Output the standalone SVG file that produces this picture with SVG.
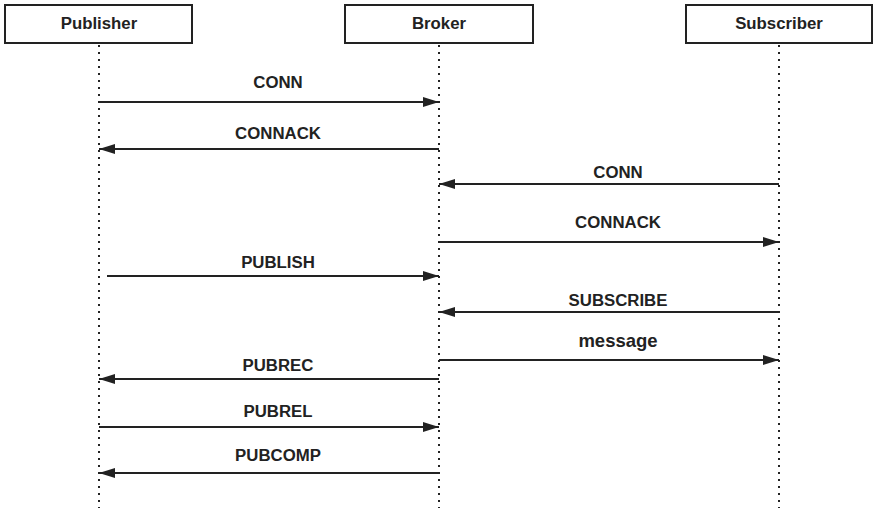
<svg xmlns="http://www.w3.org/2000/svg" width="874" height="508" viewBox="0 0 874 508">
  <style>
    .box { fill: #ffffff; stroke: #222222; stroke-width: 2; }
    .life { stroke: #222222; stroke-width: 2; stroke-dasharray: 2 5; fill: none; }
    .msg { stroke: #222222; stroke-width: 2; fill: none; }
    .lbl { font-family: "Liberation Sans", Arial, sans-serif; font-weight: bold; font-size: 16.8px; fill: #222222; text-anchor: middle; }
    .big { font-size: 18.5px; }
  </style>
  <defs>
    <marker id="head" markerWidth="16" markerHeight="11" refX="16" refY="5.5" orient="auto" markerUnits="userSpaceOnUse">
      <polygon points="0,0.5 16,5.5 0,10.5" fill="#222222"/>
    </marker>
  </defs>
  <rect width="874" height="508" fill="#ffffff"/>

  <!-- participants with lifelines -->
  <g id="publisher">
    <line class="life" x1="99" y1="45" x2="99" y2="508"/>
    <rect class="box" x="5" y="5" width="187" height="38"/>
    <text class="lbl" x="99" y="29">Publisher</text>
  </g>
  <g id="broker">
    <line class="life" x1="439" y1="45" x2="439" y2="508"/>
    <rect class="box" x="345" y="5" width="188" height="38"/>
    <text class="lbl" x="439" y="29">Broker</text>
  </g>
  <g id="subscriber">
    <line class="life" x1="779" y1="45" x2="779" y2="508"/>
    <rect class="box" x="686" y="5" width="186" height="38"/>
    <text class="lbl" x="779" y="29">Subscriber</text>
  </g>

  <!-- messages -->
  <g id="connectors">
    <line class="msg" x1="99" y1="102" x2="439" y2="102" marker-end="url(#head)"/>
    <text class="lbl" x="278" y="88">CONN</text>

    <line class="msg" x1="439" y1="149" x2="99" y2="149" marker-end="url(#head)"/>
    <text class="lbl" x="278" y="139">CONNACK</text>

    <line class="msg" x1="779" y1="184" x2="439" y2="184" marker-end="url(#head)"/>
    <text class="lbl" x="618" y="178">CONN</text>

    <line class="msg" x1="439" y1="242" x2="779" y2="242" marker-end="url(#head)"/>
    <text class="lbl" x="618" y="228">CONNACK</text>

    <line class="msg" x1="107" y1="276" x2="439" y2="276" marker-end="url(#head)"/>
    <text class="lbl" x="278" y="268">PUBLISH</text>

    <line class="msg" x1="779" y1="312" x2="439" y2="312" marker-end="url(#head)"/>
    <text class="lbl" x="618" y="306">SUBSCRIBE</text>

    <line class="msg" x1="439" y1="360" x2="779" y2="360" marker-end="url(#head)"/>
    <text class="lbl big" x="618" y="347">message</text>

    <line class="msg" x1="439" y1="379" x2="99" y2="379" marker-end="url(#head)"/>
    <text class="lbl" x="278" y="371">PUBREC</text>

    <line class="msg" x1="99" y1="427" x2="439" y2="427" marker-end="url(#head)"/>
    <text class="lbl" x="278" y="417">PUBREL</text>

    <line class="msg" x1="439" y1="473" x2="99" y2="473" marker-end="url(#head)"/>
    <text class="lbl" x="278" y="461">PUBCOMP</text>
  </g>
</svg>
